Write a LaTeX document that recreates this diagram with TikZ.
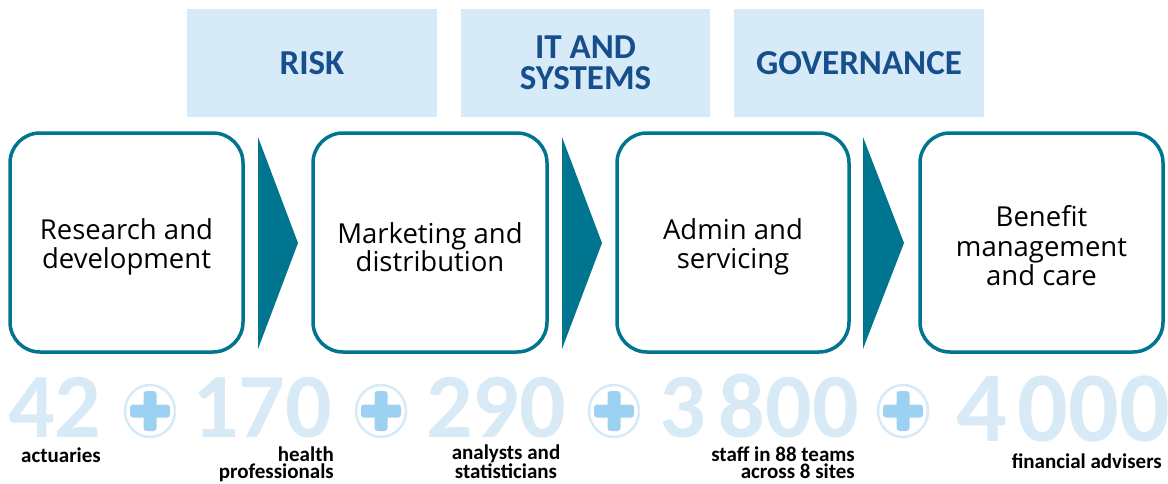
\documentclass[tikz,border=0pt]{standalone}
\usepackage{fontspec}
\usetikzlibrary{calc}
\setmainfont{Open Sans}
\newfontfamily\carl{Carlito}
\definecolor{teal1}{HTML}{00758F}
\definecolor{pale}{HTML}{D7EAF8}
\definecolor{navy}{HTML}{174E8C}
\definecolor{plusblue}{HTML}{9DD1F1}
\definecolor{numblue}{HTML}{D9EAF7}
\tikzset{
  topbox/.style={fill=pale, draw=none, minimum width=250pt, minimum height=108pt, inner sep=0pt,
     font=\carl\bfseries\fontsize{35}{31}\selectfont, text=navy, align=center},
  stagebox/.style={draw=teal1, line width=3.5pt, rounded corners=30pt, fill=white, inner sep=0pt,
     minimum height=219pt},
  stagetext/.style={align=center, font=\fontsize{27.5}{28.5}\selectfont, inner sep=0pt},
  chev/.style={fill=teal1, draw=none},
  bignum/.style={anchor=base west, inner sep=0pt, text depth=0pt, text=numblue, font=\carl\bfseries\fontsize{92}{92}\selectfont},
  lbl/.style={inner sep=0pt, font=\carl\bfseries\fontsize{21}{17.5}\selectfont, text=black},
  ring/.style={draw=pale, line width=2.5pt},
  crossbar/.style={fill=plusblue, rounded corners=3pt}
}
\begin{document}
\begin{tikzpicture}[x=1pt,y=-1pt]
\useasboundingbox (0,0) rectangle (1168,483);
% top boxes
\node[topbox] (risk) at (312,63) {RISK};
\node[topbox, minimum width=249pt] (it) at (585.5,63) {IT AND\\SYSTEMS};
\node[topbox] (gov) at (859,63) {GOVERNANCE};
% stage boxes
\node[stagebox, minimum width=233pt] (s1) at (126.5,242.5) {};
\node[stagebox, minimum width=234pt] (s2) at (430,242.5) {};
\node[stagebox, minimum width=232pt] (s3) at (733,242.5) {};
\node[stagebox, minimum width=243pt] (s4) at (1041.5,242.5) {};
\node[stagetext] (t1) at (126.5,247) {Research and\\development};
\node[stagetext] (t2) at (430,247) {Marketing and\\distribution};
\node[stagetext] (t3) at (733,247) {Admin and\\servicing};
\node[stagetext, font=\fontsize{27.5}{29.5}\selectfont] (t4) at (1041.5,246) {Benefit\\management\\and care};
% chevrons
\fill[chev] (258,137) -- (298,243) -- (258,349) -- cycle;
\fill[chev] (562,137) -- (602,243) -- (562,349) -- cycle;
\fill[chev] (863,137) -- (904,243) -- (863,349) -- cycle;
% numbers
\node[bignum] (n1) at (8,437) {42};
\node[bignum] (n2) at (192,437) {170};
\node[bignum] (n3) at (426,437) {290};
\node[bignum] (n4) at (659,437) {3\kern13pt 800};
\node[bignum, font=\carl\bfseries\fontsize{100}{100}\selectfont] (n5) at (956,441) {4\kern11pt 000};
% plus icons
\foreach \cx/\nm in {150/p1,381/p2,614/p3,903/p4}{
  \coordinate (\nm) at (\cx,411);
  \draw[ring] (\nm) circle[x radius=25pt, y radius=26pt];
  \fill[crossbar] ($(\nm)+(-20,-6.5)$) rectangle ($(\nm)+(20,6.5)$);
  \fill[crossbar] ($(\nm)+(-6.5,-20)$) rectangle ($(\nm)+(6.5,20)$);
}
% labels
\node[lbl, anchor=base west] (l1) at (21,462) {actuaries};
\node[lbl, anchor=base east, align=right] (l2) at (334,478.5) {health\\professionals};
\node[lbl, anchor=base, align=center] (l3) at (506,478.5) {analysts and\\statisticians};
\node[lbl, anchor=base east, align=right] (l4) at (855,478.5) {staff in 88 teams\\across 8 sites};
\node[lbl, anchor=base east] (l5) at (1162,468) {financial advisers};
\end{tikzpicture}
\end{document}
